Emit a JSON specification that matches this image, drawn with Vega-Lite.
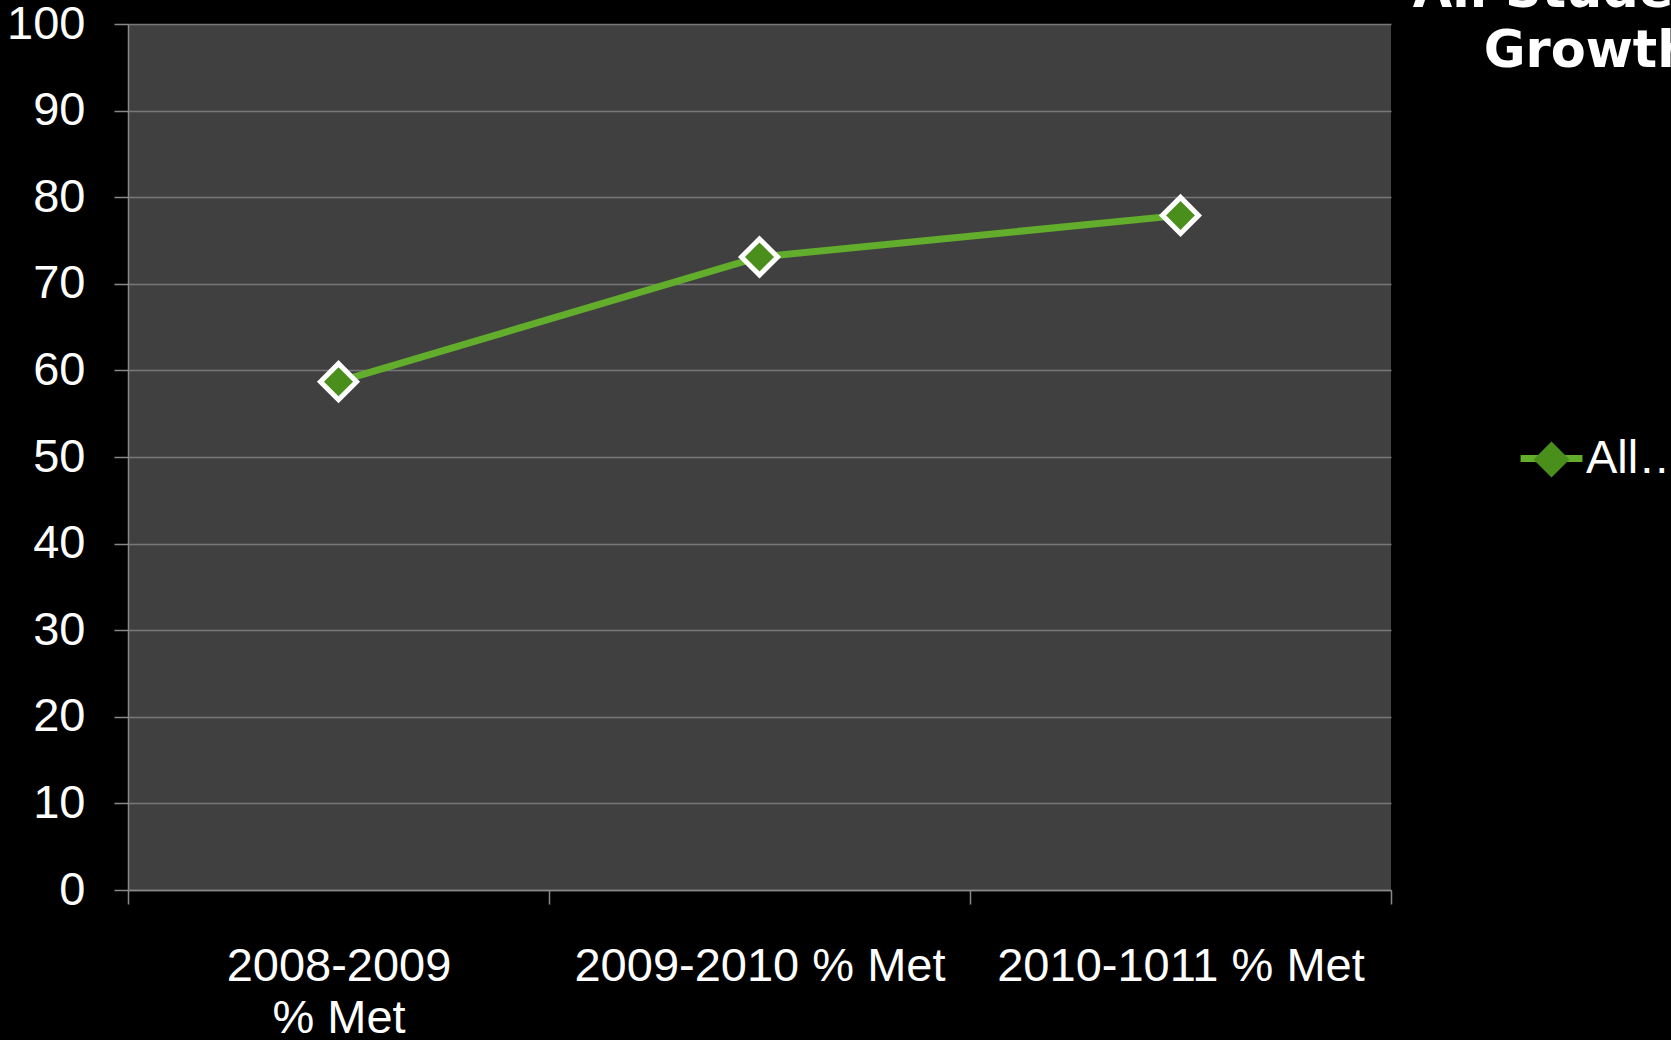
{
  "$schema": "https://vega.github.io/schema/vega-lite/v6.json",
  "width": 1263,
  "height": 866,
  "autosize": {"type": "none"},
  "padding": {"left": 128, "top": 24, "right": 280, "bottom": 150},
  "background": "#000000",
  "config": {
    "view": {"fill": "#404040", "stroke": null},
    "font": "Liberation Sans"
  },
  "title": {
    "text": ["All Students", "Growth"],
    "anchor": "start",
    "align": "center",
    "dx": 1582,
    "baseline": "alphabetic",
    "offset": 0,
    "dy": 118,
    "fontSize": 51,
    "fontWeight": "bold",
    "lineHeight": 60,
    "color": "#ffffff",
    "font": "DejaVu Sans"
  },
  "data": {
    "values": [
      {"period": "2008-2009 % Met", "value": 58.7, "series": "All Students"},
      {"period": "2009-2010 % Met", "value": 73.1, "series": "All Students"},
      {"period": "2010-1011 % Met", "value": 77.9, "series": "All Students"}
    ]
  },
  "encoding": {
    "x": {
      "field": "period",
      "type": "nominal",
      "sort": null,
      "scale": {"paddingInner": 0, "paddingOuter": 0},
      "axis": {
        "title": null,
        "labelColor": "#ffffff",
        "labelFontSize": 47,
        "labelPadding": 39,
        "labelAngle": 0,
        "labelLimit": 0,
        "labelLineHeight": 52,
        "labelExpr": "datum.label == '2008-2009 % Met' ? ['2008-2009', '% Met'] : datum.label",
        "tickSize": 14,
        "tickColor": "#888888",
        "tickWidth": 1.5,
        "tickBand": "extent",
        "domainColor": "#888888",
        "domainWidth": 1.5,
        "grid": false
      }
    },
    "y": {
      "field": "value",
      "type": "quantitative",
      "scale": {"domain": [0, 100], "nice": false},
      "axis": {
        "title": null,
        "values": [0, 10, 20, 30, 40, 50, 60, 70, 80, 90, 100],
        "labelColor": "#ffffff",
        "labelFontSize": 47,
        "labelPadding": 29,
        "tickSize": 14,
        "tickColor": "#888888",
        "tickWidth": 1.5,
        "domainColor": "#888888",
        "domainWidth": 1.5,
        "grid": true,
        "gridColor": "#777777",
        "gridWidth": 1.5
      }
    }
  },
  "layer": [
    {
      "mark": {"type": "line", "strokeWidth": 7},
      "encoding": {
        "stroke": {
          "field": "series",
          "type": "nominal",
          "scale": {"range": ["#62ad2b"]},
          "legend": {
            "title": null,
            "orient": "none",
            "legendX": 1389,
            "legendY": 400,
            "padding": 0,
            "symbolType": "stroke",
            "symbolStrokeWidth": 7,
            "symbolSize": 3824,
            "labelColor": "#ffffff",
            "labelFontSize": 47,
            "labelOffset": 0,
            "labelLimit": 100
          }
        }
      }
    },
    {
      "mark": {"type": "point", "filled": true, "size": 1300, "strokeWidth": 5, "opacity": 1, "stroke": "#ffffff"},
      "encoding": {
        "shape": {
          "field": "series",
          "type": "nominal",
          "sort": "descending",
          "scale": {"range": ["diamond"]},
          "legend": {
            "title": null,
            "orient": "none",
            "legendX": 1400,
            "legendY": 412,
            "padding": 0,
            "symbolSize": 1300,
            "symbolFillColor": "#4a8f1c",
            "symbolStrokeColor": "#ffffff",
            "symbolStrokeWidth": 5,
            "labelExpr": "''",
            "labelFontSize": 47,
            "labelLimit": 100
          }
        },
        "fill": {"value": "#4a8f1c"}
      }
    }
  ]
}
